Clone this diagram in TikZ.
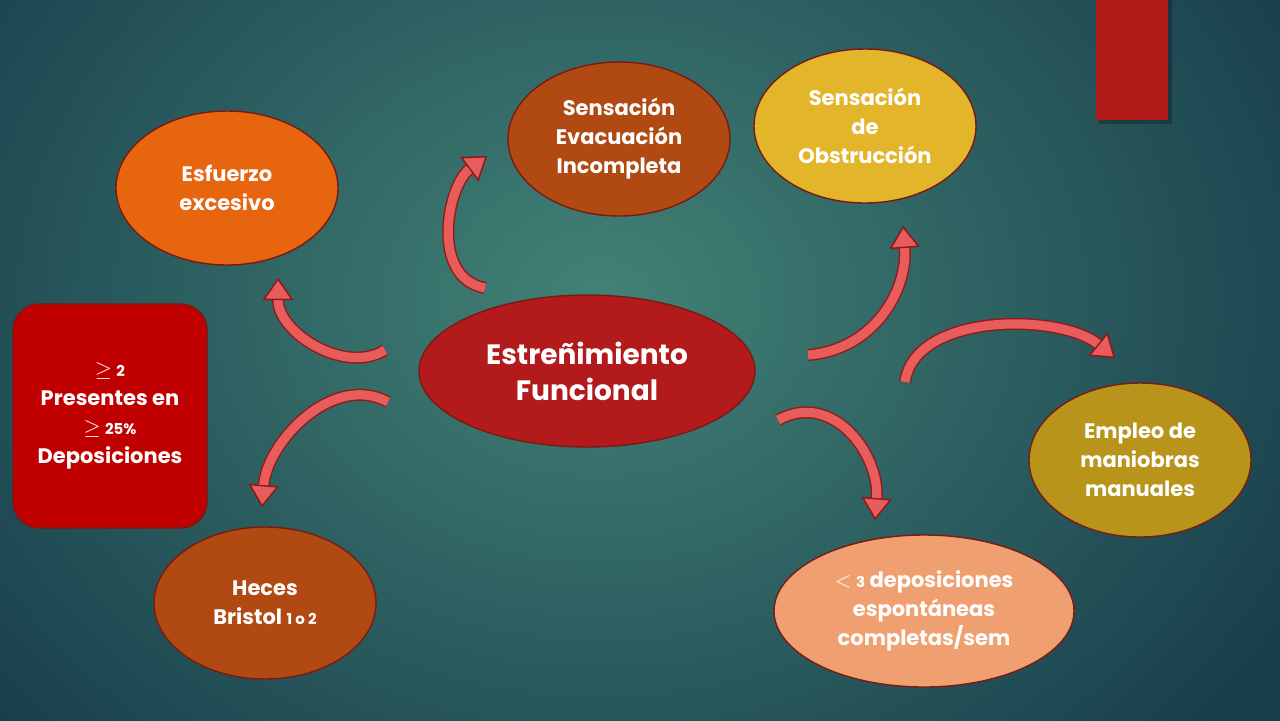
\documentclass[tikz,border=0pt]{standalone}
\usepackage{fontspec}
\setmainfont{Poppins}
\usetikzlibrary{shapes.geometric,arrows.meta,calc}
\definecolor{bgin}{HTML}{428276}
\definecolor{bgout}{HTML}{183E4C}
\definecolor{rimred}{HTML}{7A1A12}
\definecolor{funcred}{HTML}{B31A1C}
\definecolor{esforange}{HTML}{E8650F}
\definecolor{rust}{HTML}{B04A12}
\definecolor{mustard}{HTML}{E2B52B}
\definecolor{olive}{HTML}{B8941A}
\definecolor{salmon}{HTML}{F0A070}
\definecolor{boxred}{HTML}{C00000}
\definecolor{barred}{HTML}{B01A16}
\definecolor{arrowfill}{HTML}{E85C5C}
\definecolor{arrowrim}{HTML}{8E1A1A}
\tikzset{>=latex}
\tikzstyle{bubble}=[ellipse,draw=rimred,line width=0.7pt,text=white,align=center,font=\bfseries\fontsize{10.5}{14.5}\selectfont,minimum width=111pt,minimum height=77pt,inner sep=0pt]
\tikzstyle{curvedarrow}=[line width=4.6pt,draw=arrowfill,preaction={draw=arrowrim,line width=6pt},-{Triangle[length=11pt,width=15pt,fill=arrowfill,color=arrowrim,line width=0.7pt]}]
\newcommand{\sm}[1]{{\fontsize{7.5}{10}\selectfont #1}}

\begin{document}
\begin{tikzpicture}[x=0.5pt,y=-0.5pt]
  \useasboundingbox (0,0) rectangle (1280,720);
  \fill[bgout] (0,0) rectangle (1280,720);
  \shade[inner color=bgin,outer color=bgout] (-200,-350) rectangle (1400,950);
  \fill[black,opacity=0.25] (1099,0) rectangle (1172,124);
  \fill[barred] (1096,0) rectangle (1168,120);

  \node[bubble,fill=funcred,minimum width=168pt,minimum height=76pt,font=\bfseries\fontsize{14}{18}\selectfont] (func) at (587,371) {Estreñimiento\\Funcional};
  \node[bubble,fill=esforange] (esf) at (227,188) {Esfuerzo\\excesivo};
  \node[bubble,fill=rust] (evac) at (619,139) {Sensación\\Evacuación\\Incompleta};
  \node[bubble,fill=mustard] (obs) at (865,126) {Sensación\\de\\Obstrucción};
  \node[bubble,fill=olive] (man) at (1140,460) {Empleo de\\maniobras\\manuales};
  \node[bubble,fill=salmon,minimum width=150pt,minimum height=76pt] (dep) at (924,611) {$<$ \sm{3} deposiciones\\espontáneas\\completas/sem};
  \node[bubble,fill=rust,minimum height=76pt] (hec) at (265,603) {Heces\\Bristol \sm{1 o 2}};
  \node[draw=rimred,line width=0.7pt,fill=boxred,rounded corners=13pt,minimum width=97pt,minimum height=112pt,text=white,align=center,font=\bfseries\fontsize{10.5}{14.5}\selectfont] (crit) at (110,416) {$\geq$ \sm{2}\\Presentes en\\$\geq$ \sm{25\%}\\Deposiciones};

  \coordinate (esfA) at (385,350);
  \coordinate (esfB) at (278,278);
  \coordinate (hecA) at (388,402);
  \coordinate (hecB) at (262,507);
  \coordinate (evacA) at (485,288);
  \coordinate (evacB) at (487,156);
  \coordinate (obsA) at (808,355);
  \coordinate (obsB) at (903,226);
  \coordinate (manA) at (905,382);
  \coordinate (manB) at (1115,358);
  \coordinate (depA) at (778,420);
  \coordinate (depB) at (875,520);

  \draw[curvedarrow] (esfA) .. controls +(-40,25) and +(0,55) .. (esfB);
  \draw[curvedarrow] (hecA) .. controls +(-55,-30) and +(5,-65) .. (hecB);
  \draw[curvedarrow] (evacA) .. controls +(-55,-10) and +(-40,30) .. (evacB);
  \draw[curvedarrow] (obsA) .. controls +(65,-5) and +(5,65) .. (obsB);
  \draw[curvedarrow] (manA) .. controls +(10,-70) and +(-55,-45) .. (manB);
  \draw[curvedarrow] (depA) .. controls +(55,-30) and +(5,-65) .. (depB);
\end{tikzpicture}
\end{document}
